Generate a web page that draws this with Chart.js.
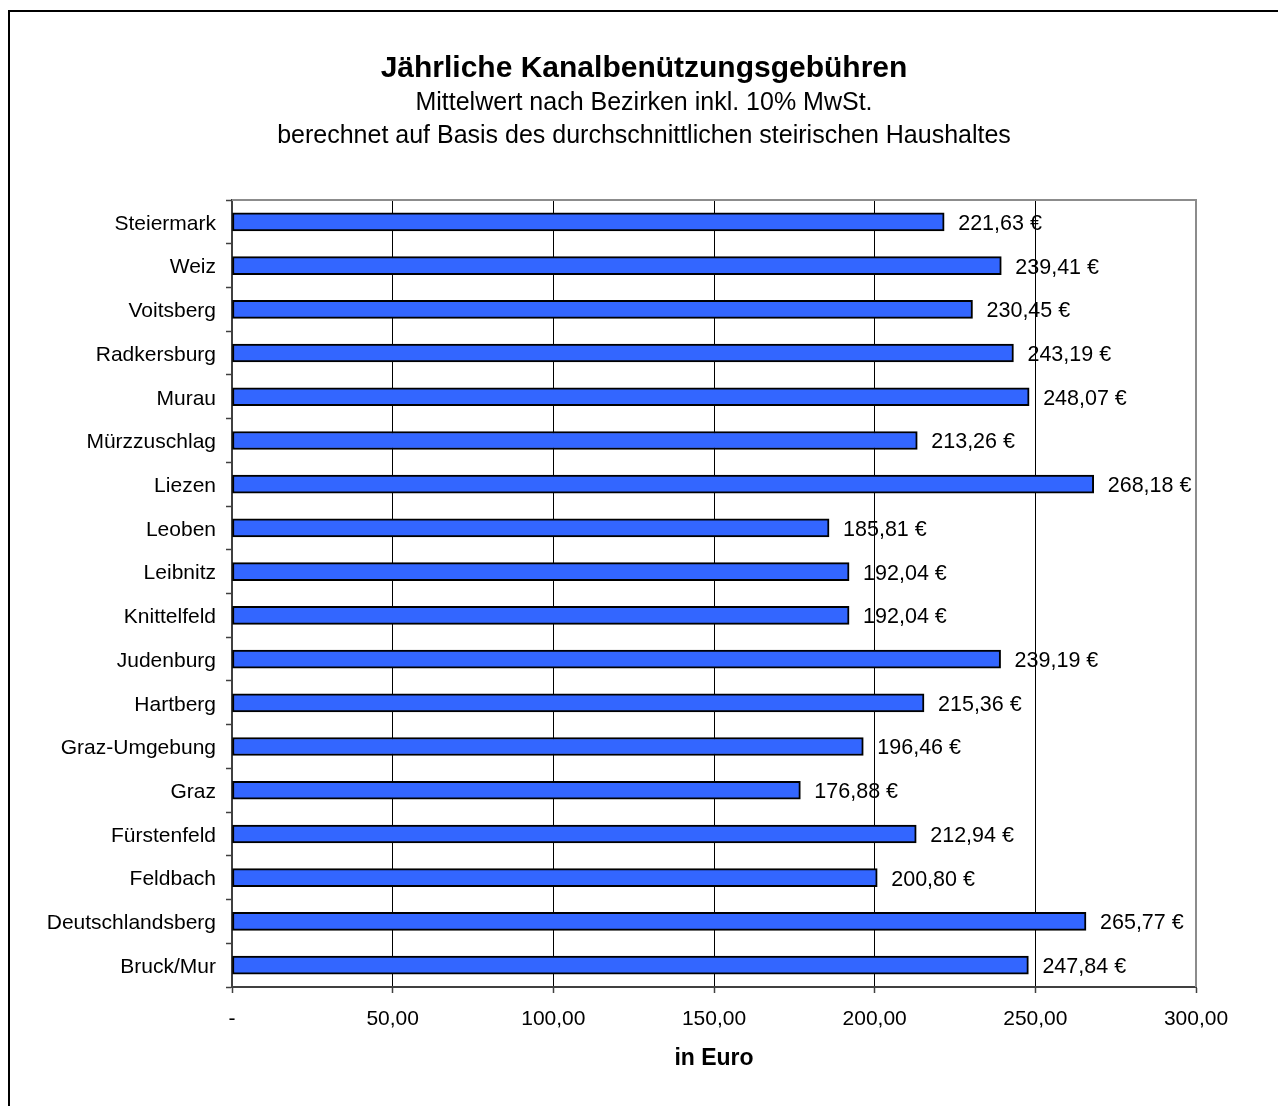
<!DOCTYPE html>
<html lang="de">
<head>
<meta charset="utf-8">
<title>Jährliche Kanalbenützungsgebühren</title>
<script src="https://cdn.jsdelivr.net/npm/chart.js@4/dist/chart.umd.min.js"></script>
<style>
  html, body { margin: 0; padding: 0; background: #fff; }
  #wrap { width: 1278px; height: 1106px; }
</style>
</head>
<body>
<div id="wrap"><canvas id="chart" width="1278" height="1106"></canvas></div>
<script>
const districts = [
  "Steiermark", "Weiz", "Voitsberg", "Radkersburg", "Murau", "Mürzzuschlag",
  "Liezen", "Leoben", "Leibnitz", "Knittelfeld", "Judenburg", "Hartberg",
  "Graz-Umgebung", "Graz", "Fürstenfeld", "Feldbach", "Deutschlandsberg", "Bruck/Mur"
];
const fees = [
  221.63, 239.41, 230.45, 243.19, 248.07, 213.26,
  268.18, 185.81, 192.04, 192.04, 239.19, 215.36,
  196.46, 176.88, 212.94, 200.80, 265.77, 247.84
];
const titleText = "Jährliche Kanalbenützungsgebühren";
const subtitleLines = [
  "Mittelwert nach Bezirken inkl. 10% MwSt.",
  "berechnet auf Basis des durchschnittlichen steirischen Haushaltes"
];
const axisTitle = "in Euro";

const FONT = "'Liberation Sans', Arial, Helvetica, sans-serif";
Chart.defaults.font.family = FONT;
Chart.defaults.color = "#000";

// number like 221,63
function fmt(v) {
  return v.toFixed(2).replace(".", ",");
}

// white page, outer frame, plot frame and value labels
const decorations = {
  id: "decorations",
  beforeDraw(chart) {
    const ctx = chart.ctx;
    ctx.save();
    ctx.fillStyle = "#fff";
    ctx.fillRect(0, 0, chart.width, chart.height);
    ctx.strokeStyle = "#000";
    ctx.lineWidth = 2;
    ctx.strokeRect(9, 11, chart.width + 50, chart.height + 50);
    ctx.restore();
  },
  afterDatasetsDraw(chart) {
    const ctx = chart.ctx;
    const a = chart.chartArea;
    ctx.save();
    ctx.strokeStyle = "#8c8c8c";
    ctx.lineWidth = 2;
    ctx.beginPath();
    ctx.moveTo(a.left, a.top);
    ctx.lineTo(a.right, a.top);
    ctx.lineTo(a.right, a.bottom);
    ctx.stroke();

    ctx.font = "21.5px " + FONT;
    ctx.fillStyle = "#000";
    ctx.textBaseline = "middle";
    ctx.textAlign = "left";
    const meta = chart.getDatasetMeta(0);
    meta.data.forEach((bar, i) => {
      ctx.fillText(fmt(fees[i]) + " €", bar.x + 14, bar.y + 2);
    });
    ctx.restore();
  }
};

new Chart(document.getElementById("chart"), {
  type: "bar",
  data: {
    labels: districts,
    datasets: [{
      data: fees,
      backgroundColor: "#3366ff",
      borderColor: "#000",
      borderWidth: 2,
      borderSkipped: false,
      barThickness: 18
    }]
  },
  options: {
    indexAxis: "y",
    responsive: false,
    animation: false,
    devicePixelRatio: 1,
    layout: { padding: { left: 10, right: 0, top: 0, bottom: 0 } },
    plugins: {
      legend: { display: false },
      tooltip: { enabled: false },
      title: {
        display: true,
        text: titleText,
        font: { size: 30, weight: "bold", lineHeight: 1.2 },
        color: "#000",
        padding: { top: 51, bottom: 0 }
      },
      subtitle: {
        display: true,
        text: subtitleLines,
        font: { size: 25, lineHeight: 33 / 25 },
        color: "#000",
        padding: { top: 0, bottom: 47 }
      }
    },
    scales: {
      x: {
        min: 0,
        max: 300,
        afterFit(scale) { scale.height = 119; },
        ticks: {
          stepSize: 50,
          padding: 14,
          font: { size: 21 },
          color: "#000",
          maxRotation: 0,
          callback: v => (v === 0 ? "-" : fmt(v))
        },
        grid: {
          color: c => (c.tick && (c.tick.value === 300 || c.tick.value === 0) ? "rgba(0,0,0,0)" : "#000"),
          lineWidth: 1,
          tickLength: 6,
          tickColor: "#404040",
          tickWidth: 1.5
        },
        border: { color: "#404040", width: 2 },
        title: {
          display: true,
          text: axisTitle,
          font: { size: 23, weight: "bold", lineHeight: 1.2 },
          color: "#000",
          padding: { top: 0, bottom: 33.6 }
        }
      },
      y: {
        afterFit(scale) { scale.width = 222; },
        ticks: {
          padding: 10,
          labelOffset: 2,
          font: { size: 21 },
          color: "#000",
          autoSkip: false
        },
        grid: {
          offset: true,
          drawOnChartArea: false,
          tickLength: 6,
          tickColor: "#404040",
          tickWidth: 1.5
        },
        border: { color: "#404040", width: 2 }
      },
      // empty right margin so the titles stay centred on the page
      yRight: {
        type: "category",
        position: "right",
        afterFit(scale) { scale.width = 82; },
        ticks: { display: false },
        grid: { display: false },
        border: { display: false }
      }
    }
  },
  plugins: [decorations]
});
</script>
</body>
</html>
